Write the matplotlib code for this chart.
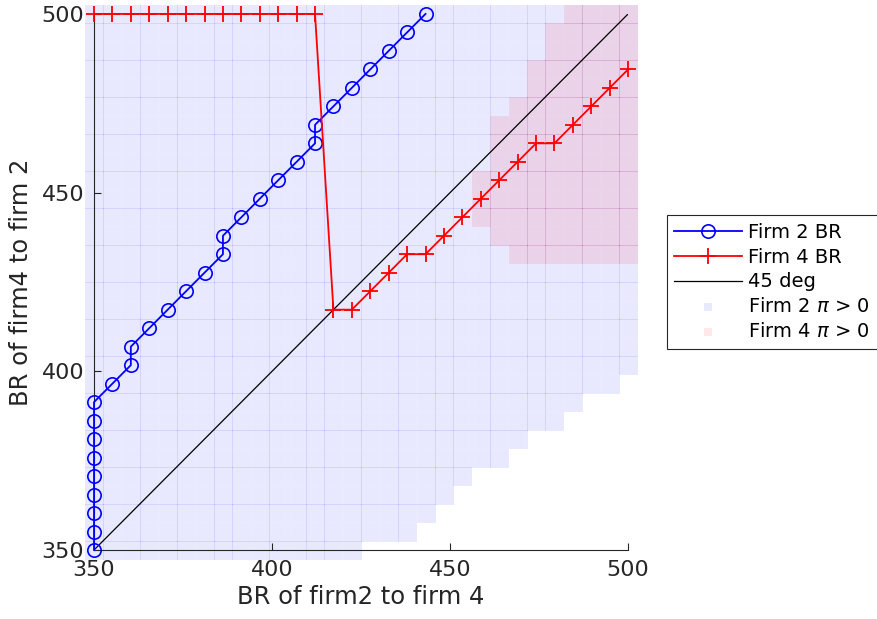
import numpy as np
import matplotlib.pyplot as plt

# Strategy grid (quantities) used for both firms
grid = [350.00, 355.17, 360.34, 365.52, 370.69, 375.86, 381.03, 386.21, 391.38, 396.55,
        401.72, 406.90, 412.07, 417.24, 422.41, 427.59, 432.76, 437.93, 443.10, 448.28,
        453.45, 458.62, 463.79, 468.97, 474.14, 479.31, 484.48, 489.66, 494.83, 500.00]

# Firm 2 best response (x) to each firm 4 quantity (y = grid)
br2 = [350.00, 350.00, 350.00, 350.00, 350.00, 350.00, 350.00, 350.00, 350.00, 355.17,
       360.34, 360.34, 365.52, 370.69, 375.86, 381.03, 386.21, 386.21, 391.38, 396.55,
       401.72, 406.90, 412.07, 412.07, 417.24, 422.41, 427.59, 432.76, 437.93, 443.10]

# Firm 4 best response (y) to each firm 2 quantity (x = grid)
br4 = [500.00, 500.00, 500.00, 500.00, 500.00, 500.00, 500.00, 500.00, 500.00, 500.00,
       500.00, 500.00, 500.00, 417.24, 417.24, 422.41, 427.59, 432.76, 432.76, 437.93,
       443.10, 448.28, 453.45, 458.62, 463.79, 463.79, 468.97, 474.14, 479.31, 484.48]

# Firm 2 profit > 0: largest x with positive profit, per y row
pi2_xmax = [422.41, 437.93, 443.10, 448.28, 453.45, 463.79, 468.97, 479.31, 484.48, 494.83] + [500.00] * 20

# Firm 4 profit > 0: smallest x with positive profit, per y row (None = no cell)
pi4_xmin = [None] * 16 + [468.97, 463.79, 458.62, 458.62, 458.62, 463.79, 463.79, 463.79,
                          468.97, 474.14, 474.14, 479.31, 479.31, 484.48]

# Build region cells
p2x, p2y, p4x, p4y = [], [], [], []
for j, yv in enumerate(grid):
    for xv in grid:
        if xv <= pi2_xmax[j] + 1e-6:
            p2x.append(xv)
            p2y.append(yv)
        if pi4_xmin[j] is not None and xv >= pi4_xmin[j] - 1e-6:
            p4x.append(xv)
            p4y.append(yv)

fig = plt.figure(figsize=(8.77, 6.19), dpi=100)
ax = fig.add_axes([0.1072, 0.1115, 0.609, 0.866])

ax.plot(br2, grid, 'b-o', mfc='none', ms=9.6, mew=1.2, lw=1.3, label='Firm 2 BR', clip_on=False, zorder=3)
ax.plot(grid, br4, 'r-+', ms=11, mew=1.3, lw=1.3, label='Firm 4 BR', clip_on=False, zorder=3)
ax.plot([350, 500], [350, 500], 'k-', lw=0.9, label='45 deg', zorder=2)
sc2 = ax.scatter(p2x, p2y, s=186, marker='s', c='b', alpha=0.09, linewidths=0,
                 label=r'Firm 2 $\pi$ > 0', clip_on=False, zorder=1)
sc4 = ax.scatter(p4x, p4y, s=186, marker='s', c='r', alpha=0.09, linewidths=0,
                 label=r'Firm 4 $\pi$ > 0', clip_on=False, zorder=1)
sc2.set_snap(False)
sc4.set_snap(False)

ax.set_xlim(350, 500)
ax.set_ylim(350, 500)
ax.set_xticks([350, 400, 450, 500])
ax.set_yticks([350, 400, 450, 500])
ax.spines['top'].set_visible(False)
ax.spines['right'].set_visible(False)
for s in ['left', 'bottom']:
    ax.spines[s].set_color('0.15')
    ax.spines[s].set_linewidth(0.8)
ax.tick_params(direction='in', length=5, width=0.8, color='0.15', labelcolor='0.15',
               labelsize=16, pad=7)
ax.set_xlabel('BR of firm2 to firm 4', fontsize=17.5, color='0.15', labelpad=4)
ax.set_ylabel('BR of firm4 to firm 2', fontsize=17.5, color='0.15', labelpad=6)

leg = ax.legend(loc='center left', bbox_to_anchor=(1.072, 0.5), fontsize=14,
                handlelength=3.5, handletextpad=0.3, labelspacing=0.3,
                borderpad=0.4, borderaxespad=0, fancybox=False, framealpha=1,
                edgecolor='0.15', scatterpoints=1)
leg.get_frame().set_linewidth(0.8)
for h in leg.legend_handles[3:]:
    h.set_sizes([36])

fig.savefig('out.png', dpi=100)
